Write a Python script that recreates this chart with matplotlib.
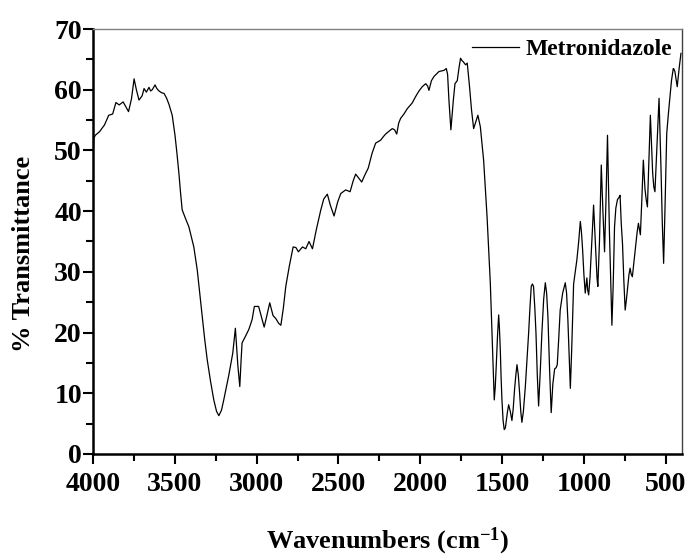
import matplotlib
matplotlib.use("Agg")
import matplotlib.pyplot as plt
from matplotlib.ticker import MultipleLocator

plt.rcParams['font.family'] = ['Liberation Serif', 'DejaVu Serif']
plt.rcParams['font.weight'] = 'bold'
plt.rcParams['mathtext.fontset'] = 'custom'
plt.rcParams['mathtext.rm'] = 'Liberation Serif:bold'
plt.rcParams['mathtext.it'] = 'Liberation Serif:bold'
plt.rcParams['mathtext.bf'] = 'Liberation Serif:bold'

wavenumber = [
    4000, 3995, 3986, 3960, 3930, 3904, 3880, 3860, 3840, 3816, 3795, 3783, 3765, 3749, 3735,
    3719, 3700, 3688, 3674, 3658, 3648, 3638, 3621, 3610, 3597, 3580, 3566, 3550, 3536, 3516,
    3499, 3487, 3475, 3465, 3455, 3435, 3414, 3384, 3363, 3348, 3333, 3318, 3302, 3282, 3262,
    3245, 3231, 3215, 3201, 3185, 3170, 3146, 3130, 3122, 3115, 3103, 3095, 3089, 3068, 3048,
    3028, 3014, 2988, 2970, 2954, 2940, 2920, 2900, 2883, 2865, 2852, 2837, 2822, 2800, 2777,
    2760, 2745, 2720, 2700, 2680, 2659, 2635, 2608, 2590, 2568, 2550, 2527, 2505, 2486, 2456,
    2429, 2410, 2395, 2378, 2358, 2338, 2318, 2295, 2273, 2242, 2225, 2212, 2190, 2171, 2157,
    2144, 2132, 2120, 2100, 2079, 2050, 2028, 2008, 1988, 1967, 1955, 1947, 1932, 1916, 1886,
    1855, 1841, 1833, 1825, 1813, 1805, 1798, 1788, 1774, 1764, 1754, 1745, 1737, 1723, 1713,
    1705, 1699, 1687, 1674, 1660, 1648, 1633, 1613, 1592, 1572, 1562, 1555, 1548, 1542, 1536,
    1528, 1521, 1516, 1511, 1506, 1501, 1494, 1487, 1480, 1474, 1467, 1460, 1450, 1440, 1432,
    1424, 1416, 1409, 1401, 1393, 1386, 1379, 1370, 1358, 1348, 1338, 1330, 1322, 1315, 1308,
    1300, 1293, 1285, 1277, 1267, 1257, 1246, 1236, 1228, 1220, 1210, 1200, 1190, 1179, 1170,
    1163, 1154, 1145, 1130, 1114, 1106, 1098, 1090, 1083, 1075, 1063, 1053, 1043, 1032, 1022,
    1015, 1008, 1000, 992, 986, 982, 977, 971, 963, 955, 948, 941, 934, 927, 920,
    915, 905, 894, 884, 874, 865, 856, 850, 844, 836, 829, 821, 813, 805, 795,
    785, 779, 772, 764, 756, 748, 740, 732, 725, 718, 711, 704, 695, 683, 675,
    667, 661, 655, 646, 637, 632, 627, 620, 612, 603, 594, 587, 580, 573, 566,
    555, 541, 535, 529, 521, 513, 505, 494, 484, 474, 465, 454, 450, 444, 437,
    430, 424, 417, 407,
]
transmittance = [
    49.5, 52.0, 52.5, 53.1, 54.2, 55.8, 56.0, 57.9, 57.5, 58.0, 57.0, 56.4, 58.5, 61.8, 60.0,
    58.3, 59.0, 60.2, 59.6, 60.4, 59.8, 60.0, 60.8, 60.2, 59.8, 59.5, 59.4, 58.6, 57.6, 55.8,
    52.5, 49.5, 46.2, 43.0, 40.2, 38.8, 37.4, 34.1, 30.3, 26.5, 22.6, 19.0, 15.5, 12.0, 8.9,
    7.0, 6.3, 7.2, 8.9, 11.0, 13.0, 16.6, 20.7, 17.5, 14.6, 11.1, 15.5, 18.3, 19.4, 20.5,
    22.1, 24.3, 24.3, 22.5, 20.9, 22.5, 24.9, 22.8, 22.3, 21.5, 21.2, 24.0, 27.6, 31.0, 34.1,
    34.0, 33.3, 34.1, 33.8, 35.0, 33.8, 37.0, 40.2, 42.0, 42.8, 41.0, 39.2, 41.5, 42.9, 43.5,
    43.2, 45.0, 46.1, 45.5, 44.8, 46.0, 47.1, 49.5, 51.2, 51.7, 52.3, 52.7, 53.2, 53.6, 53.4,
    52.7, 54.5, 55.3, 56.0, 56.9, 57.8, 58.9, 59.8, 60.5, 61.0, 60.6, 59.9, 61.5, 62.2, 63.0,
    63.2, 63.5, 62.5, 58.3, 53.4, 56.0, 58.3, 61.0, 61.5, 63.5, 65.2, 64.8, 64.6, 64.1, 64.4,
    62.2, 60.5, 56.7, 53.6, 54.8, 55.8, 53.9, 48.4, 39.1, 28.1, 19.9, 14.0, 8.9, 11.0, 14.4,
    19.5, 22.9, 20.5, 17.1, 12.5, 8.9, 5.5, 4.0, 4.3, 5.6, 7.0, 8.1, 7.0, 5.5, 7.5,
    10.6, 13.0, 14.7, 13.0, 10.0, 7.0, 5.2, 7.0, 11.1, 15.5, 19.9, 24.0, 27.6, 28.0, 27.6,
    24.0, 19.9, 13.0, 7.9, 13.5, 19.9, 25.5, 28.2, 26.5, 22.6, 14.0, 6.8, 11.5, 14.0, 14.2,
    14.7, 19.0, 23.7, 26.5, 28.2, 26.5, 22.0, 16.0, 10.8, 17.0, 28.0, 30.0, 32.0, 35.0, 38.3,
    36.5, 33.6, 29.5, 26.5, 28.0, 29.0, 27.0, 26.2, 29.0, 33.1, 37.0, 41.0, 37.0, 33.1, 29.0,
    27.6, 35.0, 47.6, 40.0, 33.3, 42.0, 52.5, 44.0, 36.4, 28.0, 21.2, 28.0, 37.4, 40.5, 41.9,
    42.3, 42.6, 38.0, 34.5, 28.5, 23.7, 25.5, 27.6, 29.5, 30.6, 29.6, 29.2, 31.5, 34.5, 36.5,
    38.0, 37.0, 36.1, 42.0, 48.4, 46.0, 43.7, 42.0, 40.7, 48.0, 55.8, 51.0, 46.3, 44.0, 43.2,
    50.0, 58.6, 53.0, 47.0, 38.0, 31.4, 40.0, 52.8, 56.0, 58.9, 61.5, 63.5, 63.4, 63.0, 61.8,
    60.5, 62.0, 63.8, 66.0,
]
series_label = "Metronidazole"
x_ticks = [4000, 3500, 3000, 2500, 2000, 1500, 1000, 500]
y_ticks = [0, 10, 20, 30, 40, 50, 60, 70]

fig = plt.figure(figsize=(6.89, 5.59), dpi=100)
ax = fig.add_axes([0.135, 0.188, 0.855, 0.760])

ax.plot(wavenumber, transmittance, color='black', lw=0.9, label=series_label)

ax.set_xlim(4000, 400)
ax.set_ylim(0, 70)
ax.set_xticks(x_ticks)
ax.set_yticks(y_ticks)
ax.xaxis.set_minor_locator(MultipleLocator(250))
ax.yaxis.set_minor_locator(MultipleLocator(5))

ax.tick_params(axis='both', which='major', direction='out', length=7, width=1.5,
               labelsize=20)
ax.tick_params(axis='y', which='major', pad=1)
ax.tick_params(axis='x', which='major', pad=6)
ax.tick_params(axis='both', which='minor', direction='out', length=5, width=1.5)
ax.tick_params(top=False, right=False, which='both')
for lab in ax.get_xticklabels() + ax.get_yticklabels():
    lab.set_fontweight('bold')

ax.spines['left'].set_linewidth(1.8)
ax.spines['bottom'].set_linewidth(1.8)
ax.spines['top'].set_linewidth(1.0)
ax.spines['top'].set_color('#808080')
ax.spines['right'].set_linewidth(1.0)
ax.spines['right'].set_color('#404040')

ax.set_ylabel('% Transmittance', fontsize=19, fontweight='bold')
ax.yaxis.set_label_coords(-0.098, 0.47)
ax.set_xlabel('Wavenumbers (cm$^{-1}$)', fontsize=19, fontweight='bold', labelpad=21)

leg = ax.legend(loc='upper right', frameon=False, fontsize=17, handlelength=2.0,
                handletextpad=0.3, borderaxespad=0.2, borderpad=0.2)
for t in leg.get_texts():
    t.set_fontweight('bold')

fig.savefig('out.png', dpi=100)
